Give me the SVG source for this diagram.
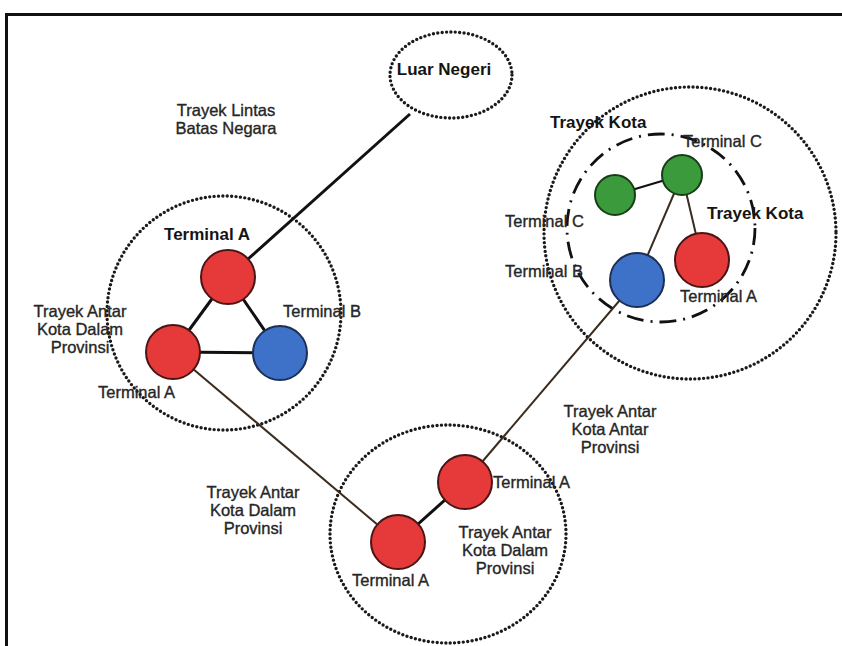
<svg xmlns="http://www.w3.org/2000/svg" width="842" height="646" viewBox="0 0 842 646">
<style>
.dot{fill:none;stroke:#1a1a1a;stroke-width:3.4;stroke-dasharray:0 4.4;stroke-linecap:round}
.dashdot{fill:none;stroke:#111;stroke-width:2.8;stroke-dasharray:17 7 2 7}
.red{fill:#e6393a;stroke:#4a1515;stroke-width:2}
.blue{fill:#3d72c8;stroke:#1d2f55;stroke-width:2}
.green{fill:#3a9a3c;stroke:#173d18;stroke-width:2}
.lk{stroke:#111;stroke-width:3;fill:none}
.lb{stroke:#3a2c1e;stroke-width:2;fill:none}
text{font-family:"Liberation Sans",Arial,sans-serif;font-size:16.5px;fill:#262626;stroke:#262626;stroke-width:0.35}
.b{font-weight:bold;font-size:17px;fill:#141414;stroke:none}
.c{text-anchor:middle}
</style>
<rect width="842" height="646" fill="#fff"/>
<path d="M6.5 646 V14.5 H842" fill="none" stroke="#111" stroke-width="3"/>
<g id="regions">
<ellipse class="dot" cx="451" cy="75" rx="61" ry="43"/>
<circle class="dot" cx="224" cy="313" r="117"/>
<ellipse class="dot" cx="448" cy="534" rx="118" ry="109"/>
<circle class="dot" cx="690" cy="233" r="146"/>
<circle class="dashdot" cx="661" cy="228" r="94"/>
</g>
<g id="connectors">
<line class="lk" x1="410" y1="114" x2="228" y2="277"/>
<line class="lk" x1="228" y1="277" x2="173" y2="352"/>
<line class="lk" x1="228" y1="277" x2="280" y2="353"/>
<line class="lk" x1="173" y1="352" x2="280" y2="353"/>
<line class="lb" x1="173" y1="352" x2="398" y2="542"/>
<line class="lk" x1="398" y1="542" x2="465" y2="482"/>
<line class="lb" x1="465" y1="482" x2="637" y2="280"/>
<line class="lk" x1="615" y1="195" x2="682" y2="175" style="stroke-width:2.2"/>
<line class="lb" x1="682" y1="175" x2="637" y2="280"/>
<line class="lb" x1="682" y1="175" x2="702" y2="260"/>
</g>
<g id="luar-negeri"><text class="b c" x="444" y="75">Luar Negeri</text></g>
<g id="left-terminal-a-top"><circle class="red" cx="228" cy="277" r="27"/><text class="b c" x="207" y="240">Terminal A</text></g>
<g id="left-terminal-a"><circle class="red" cx="173" cy="352" r="27"/><text x="98" y="398">Terminal A</text></g>
<g id="left-terminal-b"><circle class="blue" cx="280" cy="353" r="27"/><text x="283" y="317">Terminal B</text></g>
<g id="bottom-terminal-a1"><circle class="red" cx="398" cy="542" r="27"/><text x="352" y="586">Terminal A</text></g>
<g id="bottom-terminal-a2"><circle class="red" cx="465" cy="482" r="27"/><text x="493" y="488">Terminal A</text></g>
<g id="right-terminal-c1"><circle class="green" cx="615" cy="195" r="20"/><text x="505" y="227">Terminal C</text></g>
<g id="right-terminal-c2"><circle class="green" cx="682" cy="175" r="20"/><text x="683" y="147">Terminal C</text></g>
<g id="right-terminal-a"><circle class="red" cx="702" cy="260" r="27"/><text x="680" y="302">Terminal A</text></g>
<g id="right-terminal-b"><circle class="blue" cx="637" cy="280" r="27"/><text x="505" y="277">Terminal B</text></g>
<g id="labels">
<text class="c" x="226" y="116">Trayek Lintas</text>
<text class="c" x="226" y="134">Batas Negara</text>
<text class="c" x="80" y="317">Trayek Antar</text>
<text class="c" x="80" y="335">Kota Dalam</text>
<text class="c" x="80" y="353">Provinsi</text>
<text class="c" x="253" y="498">Trayek Antar</text>
<text class="c" x="253" y="516">Kota Dalam</text>
<text class="c" x="253" y="534">Provinsi</text>
<text class="c" x="505" y="538">Trayek Antar</text>
<text class="c" x="505" y="556">Kota Dalam</text>
<text class="c" x="505" y="574">Provinsi</text>
<text class="c" x="610" y="417">Trayek Antar</text>
<text class="c" x="610" y="435">Kota Antar</text>
<text class="c" x="610" y="453">Provinsi</text>
<text class="b" x="550" y="128">Trayek Kota</text>
<text class="b" x="707" y="219">Trayek Kota</text>
</g>
</svg>
